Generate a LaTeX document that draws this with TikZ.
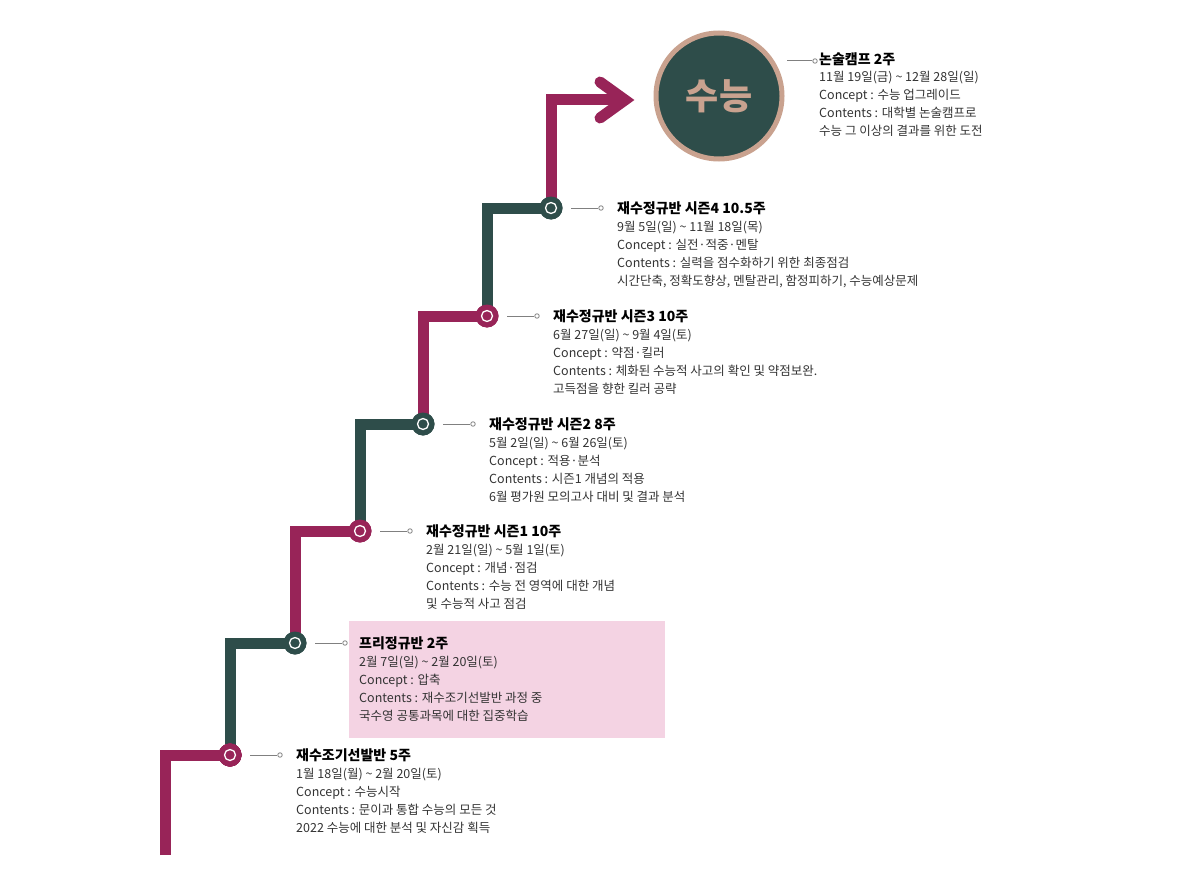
\documentclass[tikz,border=0pt]{standalone}
\usepackage{fontspec}
\setmainfont{Noto Sans CJK KR}
\newfontfamily\kbold{Noto Sans CJK KR Bold}
\definecolor{mag}{HTML}{982458}
\definecolor{dk}{HTML}{2E4D4A}
\definecolor{tan}{HTML}{C9A28F}
\definecolor{pinkbg}{HTML}{F4D3E3}
\definecolor{txt}{HTML}{333333}
\begin{document}
\begin{tikzpicture}[x=1pt,y=-1pt,
  seg/.style={line width=11pt,line join=miter},
  dot/.style={circle,minimum size=23pt,inner sep=0pt},
  ring/.style={circle,draw=white,line width=1.3pt,minimum size=11pt,inner sep=0pt},
  lead/.style={draw=gray,line width=1pt},
  tip/.style={circle,draw=gray,fill=white,line width=0.8pt,minimum size=4.5pt,inner sep=0pt},
  ttl/.style={anchor=west,inner sep=0pt,font=\fontsize{14}{16}\selectfont\bfseries,text=black},
  bdy/.style={anchor=north west,inner sep=0pt,align=left,font=\fontsize{12.5}{18}\selectfont,text=txt}]
\useasboundingbox (0,0) rectangle (1200,888);
\fill[pinkbg] (349,621) rectangle (665,738);
% staircase
\coordinate (s0) at (165,855);
\node[dot,fill=mag] (c1) at (230,755) {};
\node[dot,fill=dk] (c2) at (295,643) {};
\node[dot,fill=mag] (c3) at (360,531) {};
\node[dot,fill=dk] (c4) at (423,424) {};
\node[dot,fill=mag] (c5) at (487,316) {};
\node[dot,fill=dk] (c6) at (551,208) {};
\coordinate (ae) at (625,100);
\draw[seg,mag] (s0) |- (c1.center);
\draw[seg,dk] (c1.center) |- (c2.center);
\draw[seg,mag] (c2.center) |- (c3.center);
\draw[seg,dk] (c3.center) |- (c4.center);
\draw[seg,mag] (c4.center) |- (c5.center);
\draw[seg,dk] (c5.center) |- (c6.center);
\draw[seg,mag] (c6.center) |- (ae);
\draw[mag,line width=11pt,line cap=round,line join=miter] (600,82) -- (ae) -- (600,118);
\foreach \c in {c1,c2,c3,c4,c5,c6}{
  \node[dot,fill=mag] at (c1) {};}
\node[dot,fill=mag] at (c1) {}; \node[dot,fill=dk] at (c2) {}; \node[dot,fill=mag] at (c3) {};
\node[dot,fill=dk] at (c4) {}; \node[dot,fill=mag] at (c5) {}; \node[dot,fill=dk] at (c6) {};
\foreach \c in {c1,c2,c3,c4,c5,c6}{\node[ring] at (\c) {};}
% big circle
\node[circle,fill=dk,draw=tan,line width=5pt,minimum size=126pt,inner sep=0pt,text=tan,font=\fontsize{36}{40}\selectfont\bfseries] (big) at (719,96) {수능};
% leaders
\foreach \cx/\cy/\n in {230/755/1,295/643/2,360/531/3,423/424/4,487/316/5,551/208/6}{
  \coordinate (la\n) at (\cx+20,\cy);
  \node[tip] (lt\n) at (\cx+50,\cy) {};
  \draw[lead] (la\n) -- (lt\n);
}
\coordinate (la7) at (787,61);
\node[tip] (lt7) at (815,61) {};
\draw[lead] (la7) -- (lt7);
% texts
\node[ttl] (t1) at (296,755) {재수조기선발반 5주};
\node[bdy] (b1) at (296,768) {1월 18일(월) \textasciitilde{} 2월 20일(토)\\Concept : 수능시작\\Contents : 문이과 통합 수능의 모든 것\\2022 수능에 대한 분석 및 자신감 획득};
\node[ttl] (t2) at (359,643) {프리정규반 2주};
\node[bdy] (b2) at (359,656) {2월 7일(일) \textasciitilde{} 2월 20일(토)\\Concept : 압축\\Contents : 재수조기선발반 과정 중\\국수영 공통과목에 대한 집중학습};
\node[ttl] (t3) at (426,531) {재수정규반 시즌1 10주};
\node[bdy] (b3) at (426,544) {2월 21일(일) \textasciitilde{} 5월 1일(토)\\Concept : 개념·점검\\Contents : 수능 전 영역에 대한 개념\\및 수능적 사고 점검};
\node[ttl] (t4) at (489,424) {재수정규반 시즌2 8주};
\node[bdy] (b4) at (489,437) {5월 2일(일) \textasciitilde{} 6월 26일(토)\\Concept : 적용·분석\\Contents : 시즌1 개념의 적용\\6월 평가원 모의고사 대비 및 결과 분석};
\node[ttl] (t5) at (553,316) {재수정규반 시즌3 10주};
\node[bdy] (b5) at (553,329) {6월 27일(일) \textasciitilde{} 9월 4일(토)\\Concept : 약점·킬러\\Contents : 체화된 수능적 사고의 확인 및 약점보완.\\고득점을 향한 킬러 공략};
\node[ttl] (t6) at (617,208) {재수정규반 시즌4 10.5주};
\node[bdy] (b6) at (617,221) {9월 5일(일) \textasciitilde{} 11월 18일(목)\\Concept : 실전·적중·멘탈\\Contents : 실력을 점수화하기 위한 최종점검\\시간단축, 정확도향상, 멘탈관리, 함정피하기, 수능예상문제};
\node[ttl] (t7) at (819,59) {논술캠프 2주};
\node[bdy] (b7) at (819,71) {11월 19일(금) \textasciitilde{} 12월 28일(일)\\Concept : 수능 업그레이드\\Contents : 대학별 논술캠프로\\수능 그 이상의 결과를 위한 도전};
\end{tikzpicture}
\end{document}
